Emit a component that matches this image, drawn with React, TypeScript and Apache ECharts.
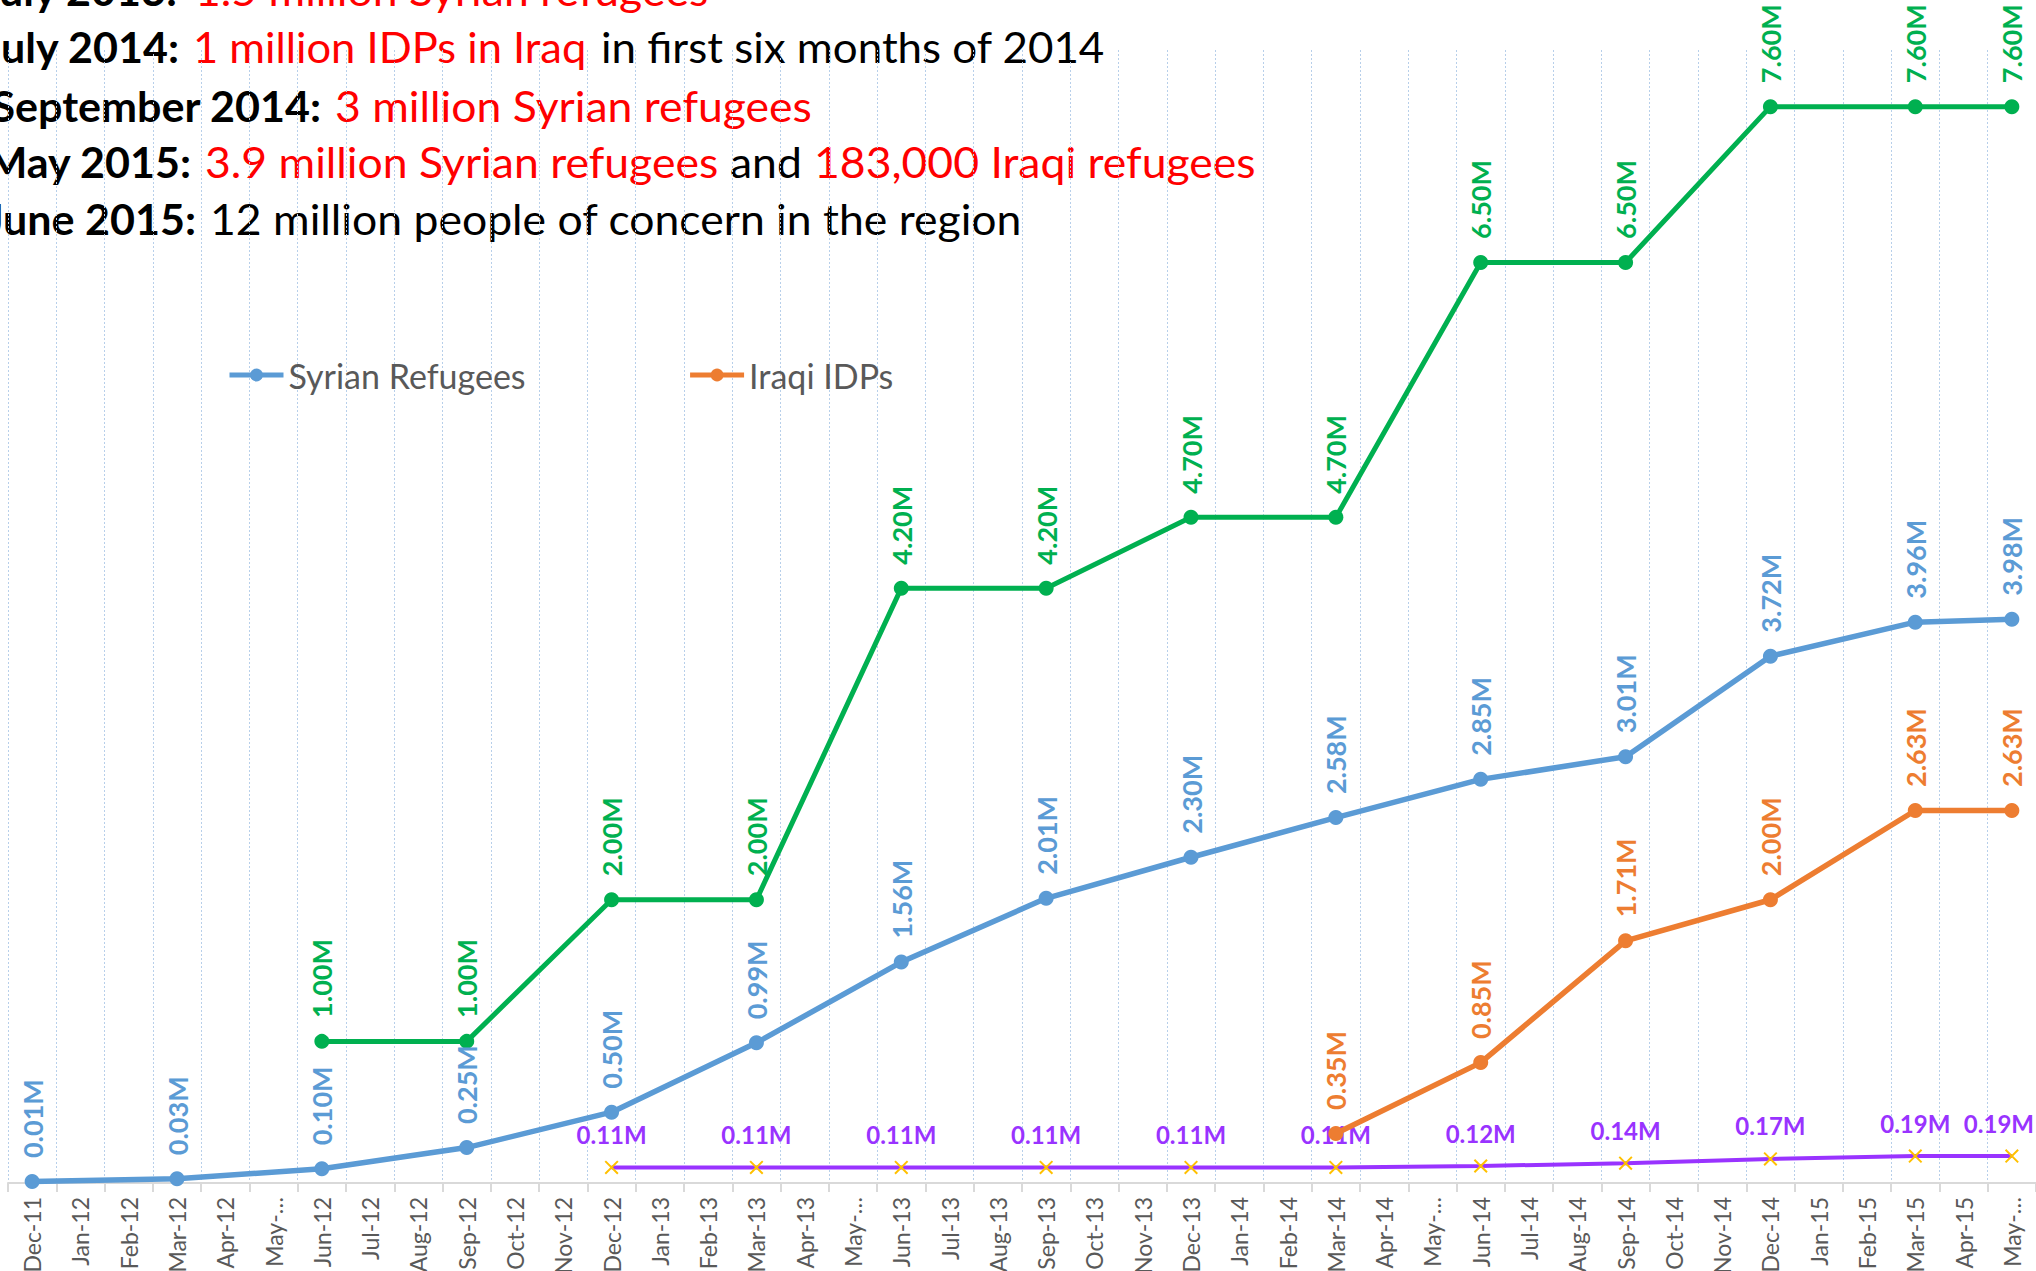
import React, { useEffect, useRef } from 'react';
import * as echarts from 'echarts';

const FONT = 'Lato, "Noto Sans", sans-serif';

const months = [
  'Dec-11',
  'Jan-12', 'Feb-12', 'Mar-12', 'Apr-12', 'May-12', 'Jun-12', 'Jul-12', 'Aug-12', 'Sep-12', 'Oct-12', 'Nov-12', 'Dec-12',
  'Jan-13', 'Feb-13', 'Mar-13', 'Apr-13', 'May-13', 'Jun-13', 'Jul-13', 'Aug-13', 'Sep-13', 'Oct-13', 'Nov-13', 'Dec-13',
  'Jan-14', 'Feb-14', 'Mar-14', 'Apr-14', 'May-14', 'Jun-14', 'Jul-14', 'Aug-14', 'Sep-14', 'Oct-14', 'Nov-14', 'Dec-14',
  'Jan-15', 'Feb-15', 'Mar-15', 'Apr-15', 'May-15',
];

const syrianRefugees: [string, number][] = [
  ['Dec-11', 0.01], ['Mar-12', 0.03], ['Jun-12', 0.10], ['Sep-12', 0.25], ['Dec-12', 0.50],
  ['Mar-13', 0.99], ['Jun-13', 1.56], ['Sep-13', 2.01], ['Dec-13', 2.30], ['Mar-14', 2.58],
  ['Jun-14', 2.85], ['Sep-14', 3.01], ['Dec-14', 3.72], ['Mar-15', 3.96], ['May-15', 3.98],
];

const totalConcern: [string, number][] = [
  ['Jun-12', 1.00], ['Sep-12', 1.00], ['Dec-12', 2.00], ['Mar-13', 2.00], ['Jun-13', 4.20],
  ['Sep-13', 4.20], ['Dec-13', 4.70], ['Mar-14', 4.70], ['Jun-14', 6.50], ['Sep-14', 6.50],
  ['Dec-14', 7.60], ['Mar-15', 7.60], ['May-15', 7.60],
];

const iraqiIDPs: [string, number][] = [
  ['Mar-14', 0.35], ['Jun-14', 0.85], ['Sep-14', 1.71], ['Dec-14', 2.00], ['Mar-15', 2.63], ['May-15', 2.63],
];

const iraqiRefugees: [string, number][] = [
  ['Dec-12', 0.11], ['Mar-13', 0.11], ['Jun-13', 0.11], ['Sep-13', 0.11], ['Dec-13', 0.11],
  ['Mar-14', 0.11], ['Jun-14', 0.12], ['Sep-14', 0.14], ['Dec-14', 0.17], ['Mar-15', 0.19], ['May-15', 0.19],
];

const RED = '#ff0000';
const BLACK = '#000000';

const notes: { date: string; parts: [string, string][] }[] = [
  { date: 'July 2013:', parts: [['1.5 million Syrian refugees', RED]] },
  { date: 'July 2014:', parts: [['1 million IDPs in Iraq', RED], ['in first six months of 2014', BLACK]] },
  { date: 'September 2014:', parts: [['3 million Syrian refugees', RED]] },
  { date: 'May 2015:', parts: [['3.9 million Syrian refugees', RED], ['and', BLACK], ['183,000 Iraqi refugees', RED]] },
  { date: 'June 2015:', parts: [['12 million people of concern in the region', BLACK]] },
];

const BLUE = '#5b9bd5';
const ORANGE = '#ed7d31';
const GREEN = '#00b050';
const PURPLE = '#9933ff';
const GOLD = '#ffc000';

const fmt = (p: any) => {
  const v = Array.isArray(p.value) ? p.value[1] : p.value;
  return Number(v).toFixed(2) + 'M';
};

const rotatedLabel = (color: string) => ({
  show: true,
  position: 'top',
  rotate: 90,
  align: 'left',
  verticalAlign: 'middle',
  distance: 16,
  color,
  fontFamily: FONT,
  fontWeight: 'bold',
  fontSize: 27,
  formatter: fmt,
});

const keepInside = (p: any) => {
  const r = p.labelRect;
  if (!r) return {};
  const over = r.x + r.width - 2034;
  return over > 0 ? { dx: -over } : {};
};

export default function App() {
  const ref = useRef<HTMLDivElement>(null);

  useEffect(() => {
    document.body.style.margin = '0';
    const chart = echarts.init(ref.current!, null, { renderer: 'svg' });

    const dateEnds = [177, 179, 321, 191, 196];
    const partStarts = [[195], [193, 601], [335], [205, 730, 814], [210]];
    const partScales = [[1.06], [1.035, 1.045], [1.06], [1.06, 1.06, 1.06], [1.06]];
    const lineCenters = [-10, 47, 106, 162, 219];

    const graphic: any[] = [];
    notes.forEach((n, i) => {
      graphic.push({
        type: 'text',
        x: dateEnds[i],
        y: lineCenters[i],
        scaleX: 1.025,
        style: {
          text: n.date,
          fill: BLACK,
          fontFamily: FONT,
          fontWeight: 'bold',
          fontSize: 42,
          align: 'right',
          verticalAlign: 'middle',
        },
      });
      n.parts.forEach((p, j) => {
        graphic.push({
          type: 'text',
          x: partStarts[i][j],
          y: lineCenters[i],
          scaleX: partScales[i][j],
          style: {
            text: p[0],
            fill: p[1],
            fontFamily: FONT,
            fontSize: 42,
            align: 'left',
            verticalAlign: 'middle',
          },
        });
      });
    });

    const option: any = {
      animation: false,
      backgroundColor: '#ffffff',
      grid: { left: 8, right: 0, top: 50, bottom: 88, containLabel: false, outerBoundsMode: 'none' },
      legend: {
        data: ['Syrian Refugees', 'Iraqi IDPs'],
        left: 222,
        top: 353,
        itemWidth: 54,
        itemHeight: 16,
        itemGap: 162,
        lineStyle: { width: 5 },
        textStyle: { color: '#595959', fontFamily: FONT, fontSize: 34 },
      },
      xAxis: {
        type: 'category',
        data: months,
        boundaryGap: true,
        axisLine: { lineStyle: { color: '#d9d9d9', width: 2 } },
        axisTick: { show: true, interval: 0, length: 9, lineStyle: { color: '#d9d9d9', width: 2 } },
        axisLabel: {
          interval: 0,
          rotate: 90,
          margin: 14,
          color: '#595959',
          fontFamily: FONT,
          fontSize: 23,
          formatter: (v: string) => (v.startsWith('May') ? 'May-…' : v),
        },
        splitLine: {
          show: true,
          interval: 0,
          lineStyle: { color: '#b7cfea', width: 1, type: [2, 2] },
        },
      },
      yAxis: {
        type: 'value',
        min: 0,
        max: 8,
        show: false,
        splitLine: { show: false },
      },
      graphic,
      series: [
        {
          name: 'Total',
          type: 'line',
          data: totalConcern,
          symbol: 'circle',
          symbolSize: 15,
          lineStyle: { color: GREEN, width: 5 },
          itemStyle: { color: GREEN },
          label: rotatedLabel(GREEN),
          z: 3,
        },
        {
          name: 'Syrian Refugees',
          type: 'line',
          data: syrianRefugees,
          symbol: 'circle',
          symbolSize: 15,
          lineStyle: { color: BLUE, width: 5.5 },
          itemStyle: { color: BLUE },
          label: rotatedLabel(BLUE),
          z: 3,
        },
        {
          name: 'Iraqi Refugees',
          type: 'line',
          data: iraqiRefugees,
          symbol: 'path://M0,1L1,0L10,9L9,10ZM9,0L10,1L1,10L0,9Z',
          symbolSize: 14,
          lineStyle: { color: PURPLE, width: 4 },
          itemStyle: { color: GOLD },
          label: {
            show: true,
            position: 'top',
            distance: 14,
            color: PURPLE,
            fontFamily: FONT,
            fontWeight: 'bold',
            fontSize: 24,
            formatter: fmt,
          },
          labelLayout: keepInside,
          z: 3,
        },
        {
          name: 'Iraqi IDPs',
          type: 'line',
          data: iraqiIDPs,
          symbol: 'circle',
          symbolSize: 15,
          lineStyle: { color: ORANGE, width: 5.5 },
          itemStyle: { color: ORANGE },
          label: rotatedLabel(ORANGE),
          z: 4,
        },
      ],
    };

    chart.setOption(option);
    return () => chart.dispose();
  }, []);

  return (
    <div
      ref={ref}
      style={{ position: 'absolute', left: 0, top: 0, width: 2036, height: 1271, background: '#fff' }}
    />
  );
}
